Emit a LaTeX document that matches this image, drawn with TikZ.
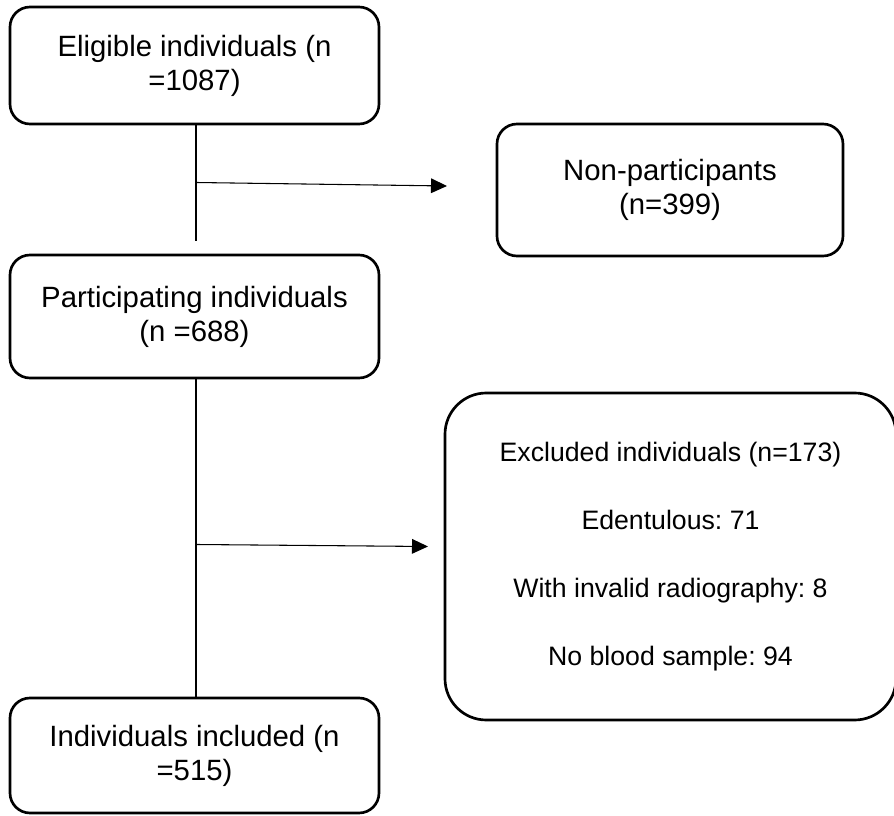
\documentclass[tikz,border=0pt]{standalone}
\usepackage{fontspec}
\setmainfont{Liberation Sans}
\usetikzlibrary{arrows.meta}
\frenchspacing
\begin{document}
\begin{tikzpicture}[x=0.75pt,y=-0.75pt,
  box/.style={draw=black,line width=2pt,rounded corners=15pt,align=center,
    inner sep=0pt,font=\fontsize{22}{25.5}\selectfont},
  bigbox/.style={draw=black,line width=2pt,rounded corners=31pt,align=center,
    inner sep=0pt,font=\fontsize{20}{51}\selectfont},
  conn/.style={draw=black,line width=0.8pt},
  arr/.style={conn,-{Triangle[length=12pt,width=11pt]}}]
\useasboundingbox (0,0) rectangle (894,816);
\node[box,minimum width=276.75pt,minimum height=87.75pt] (elig) at (194.5,65.5)
  {Eligible individuals (n\\=1087)};
\node[box,minimum width=259.5pt,minimum height=99pt] (nonp) at (670,190)
  {Non-participants\\(n=399)};
\node[box,minimum width=276.75pt,minimum height=92.25pt] (part) at (194.5,316.5)
  {Participating individuals\\(n =688)};
\node[bigbox,minimum width=338.25pt,minimum height=245.25pt] (excl) at (670.5,556.5)
  {Excluded individuals (n=173)\\Edentulous: 71\\With invalid radiography: 8\\No blood sample: 94};
\node[box,minimum width=276.75pt,minimum height=86.25pt] (incl) at (194.5,755.5)
  {Individuals included (n\\=515)};
% connectors
\coordinate (j1) at (196,241);
\coordinate (b1) at (196,182.5);
\coordinate (t1) at (447,186);
\coordinate (b2) at (196,544.5);
\coordinate (t2) at (428,546.5);
\draw[conn] (elig.south -| j1) -- (j1);
\draw[arr] (b1) -- (t1);
\draw[conn] (part.south -| b2) -- (incl.north -| b2);
\draw[arr] (b2) -- (t2);
\end{tikzpicture}
\end{document}
